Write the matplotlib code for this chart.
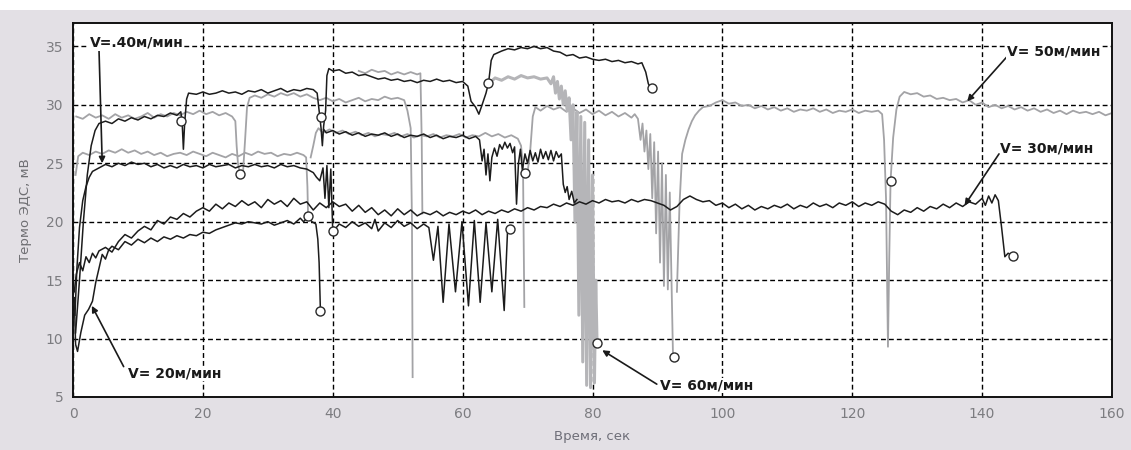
import numpy as np
import matplotlib
matplotlib.use('Agg')
import matplotlib.pyplot as plt
from matplotlib.patches import Rectangle

# ---------------- data (time, s ; thermo-EMF, mV) ----------------
x_ticks = [0, 20, 40, 60, 80, 100, 120, 140, 160]
x_tick_labels = ["0", "20", "40", "60", "80", "100", "120", "140", "160"]
y_ticks = [5, 10, 15, 20, 25, 30, 35]

# black upper staircase trace
trace_a = [(0.4, 10.5), (1.0, 15.0), (1.6, 20.0), (2.2, 24.0), (2.8, 26.5), (3.4, 27.8), (4.0, 28.4),
           (5, 28.6), (6, 28.4), (7, 28.8), (8, 28.6), (9, 28.9), (10, 28.7), (11, 29.0), (12, 28.8),
           (13, 29.1), (14, 29.0), (15, 29.3), (16, 29.1), (16.6, 29.4), (16.8, 28.6), (17.0, 26.2),
           (17.2, 28.5), (17.5, 30.5), (17.8, 31.0), (19, 30.9), (20, 31.1), (21, 30.9), (22, 31.0),
           (23, 31.2), (24, 31.0), (25, 31.1), (26, 30.9), (27, 31.2), (28, 31.1), (29, 31.3), (30, 31.0),
           (31, 31.2), (32, 31.4), (33, 31.1), (34, 31.3), (35, 31.2), (36, 31.4), (37, 31.3), (37.6, 31.0),
           (37.9, 29.5), (38.2, 28.0), (38.4, 26.5), (38.6, 28.2), (38.9, 29.5), (39.1, 32.5), (39.4, 33.1),
           (40, 32.9), (41, 33.0), (42, 32.7), (43, 32.8), (44, 32.5), (45, 32.6), (46, 32.4), (47, 32.2),
           (48, 32.3), (49, 32.1), (50, 32.2), (51, 32.0), (52, 32.1), (53, 31.9), (54, 32.1), (55, 32.0),
           (56, 32.2), (57, 32.0), (58, 32.1), (59, 31.9), (60, 32.0), (60.8, 31.6), (61.3, 30.3),
           (62.0, 29.8), (62.5, 29.2), (63.0, 30.0), (63.6, 31.0), (64.0, 31.9), (64.4, 33.8), (64.8, 34.3),
           (66, 34.6), (67, 34.8), (68, 34.7), (69, 34.9), (70, 34.8), (71, 35.0), (72, 34.8), (73, 34.9),
           (74, 34.6), (75, 34.5), (76, 34.2), (77, 34.3), (78, 34.0), (79, 34.1), (80, 33.9), (81, 33.8),
           (82, 33.9), (83, 33.7), (84, 33.8), (85, 33.6), (86, 33.7), (87, 33.5), (87.6, 33.6),
           (88.2, 32.8), (88.6, 31.8), (89.0, 31.4)]

# black V=40 trace (~25 mV)
v40 = [(0.3, 12.0), (0.6, 16.0), (1.0, 19.5), (1.5, 21.8), (2.0, 23.0), (2.5, 23.8), (3.0, 24.3),
       (4, 24.6), (5, 24.9), (6, 24.7), (7, 25.0), (8, 24.8), (9, 25.1), (10, 24.9), (11, 25.0),
       (12, 24.7), (13, 24.9), (14, 24.6), (15, 24.8), (16, 24.6), (17, 24.9), (18, 24.7), (19, 24.8),
       (20, 24.6), (21, 24.9), (22, 24.7), (23, 24.8), (24, 24.9), (25, 24.6), (26, 24.8), (27, 24.7),
       (28, 24.9), (29, 24.7), (30, 24.8), (31, 24.6), (32, 24.9), (33, 24.7), (34, 24.8), (35, 24.6),
       (36, 24.5), (37, 24.2), (37.5, 23.8), (38.0, 23.5), (38.5, 24.6), (38.8, 22.0), (39.1, 24.8),
       (39.4, 21.2), (39.7, 24.5), (40.0, 19.2)]

# black V=20 trace (lower rising)
v20 = [(0.2, 13.5), (0.4, 9.5), (0.7, 8.9), (1.2, 10.5), (1.8, 12.0), (2.4, 12.5), (3.0, 13.2),
       (3.5, 14.8), (4.0, 16.0), (4.5, 17.2), (5, 16.8), (5.5, 17.6), (6, 17.9), (7, 17.6), (8, 18.3),
       (9, 18.0), (10, 18.5), (11, 18.2), (12, 18.6), (13, 18.3), (14, 18.7), (15, 18.5), (16, 18.8),
       (17, 18.6), (18, 18.9), (19, 18.8), (20, 19.1), (21, 19.0), (22, 19.3), (23, 19.5), (24, 19.7),
       (25, 19.9), (26, 19.8), (27, 20.0), (28, 19.9), (29, 19.8), (30, 20.0), (31, 19.7), (32, 19.9),
       (33, 20.1), (34, 19.8), (35, 20.3), (35.5, 20.0), (36.2, 20.4), (36.8, 20.0), (37.4, 19.8),
       (37.7, 18.5), (37.9, 16.5), (38.1, 12.4)]

# black oscillating segment
trace_d = [(40.1, 19.2), (41, 19.8), (42, 19.5), (43, 20.0), (44, 19.6), (45, 19.9), (46, 19.4),
           (46.5, 20.2), (47, 19.2), (48, 19.9), (49, 19.5), (50, 20.1), (51, 19.6), (52, 19.9),
           (53, 19.4), (54, 19.8), (54.8, 19.5), (55.5, 16.7), (56.2, 19.6), (57.0, 13.1), (57.9, 19.8),
           (58.9, 14.0), (59.9, 20.0), (60.9, 12.8), (61.8, 20.1), (62.7, 13.1), (63.6, 19.9),
           (64.5, 14.0), (65.4, 20.2), (66.4, 12.4), (66.9, 19.0), (67.3, 19.4)]

# black V=30 trace (~21.5 mV)
v30 = [(0.2, 14.0), (0.5, 15.5), (1.0, 16.5), (1.5, 15.8), (2.0, 17.0), (2.5, 16.5), (3.0, 17.3),
       (3.5, 16.9), (4, 17.5), (5, 17.8), (6, 17.4), (7, 18.3), (8, 18.9), (9, 18.6), (10, 19.2),
       (11, 19.6), (12, 19.3), (13, 20.1), (14, 19.8), (15, 20.4), (16, 20.2), (17, 20.7), (18, 20.4),
       (19, 20.9), (20, 21.2), (21, 20.9), (22, 21.5), (23, 21.1), (24, 21.6), (25, 21.3), (26, 21.8),
       (27, 21.4), (28, 21.7), (29, 21.2), (30, 21.9), (31, 21.5), (32, 21.8), (33, 21.3), (34, 22.0),
       (35, 21.5), (36, 21.7), (37, 21.0), (38, 21.6), (39, 21.2), (40, 21.7), (41, 21.3), (42, 21.5),
       (43, 20.9), (44, 21.4), (45, 20.8), (46, 21.2), (47, 20.6), (48, 21.0), (49, 20.5), (50, 21.1),
       (51, 20.6), (52, 21.0), (53, 20.5), (54, 20.8), (55, 20.6), (56, 20.9), (57, 20.5), (58, 20.8),
       (59, 20.6), (60, 20.9), (61, 20.7), (62, 21.0), (63, 20.6), (64, 20.9), (65, 20.7), (66, 21.0),
       (67, 20.8), (68, 21.1), (69, 20.9), (70, 21.2), (71, 21.0), (72, 21.3), (73, 21.2), (74, 21.5),
       (75, 21.3), (76, 21.6), (77, 21.4), (78, 21.7), (79, 21.5), (80, 21.8), (81, 21.6), (82, 21.9),
       (83, 21.7), (84, 21.8), (85, 21.6), (86, 21.9), (87, 21.7), (88, 21.9), (89, 21.8), (90, 21.6),
       (91, 21.4), (92, 21.0), (93, 21.3), (94, 21.9), (95, 22.2), (96, 21.9), (97, 21.7), (98, 21.8),
       (99, 21.4), (100, 21.6), (101, 21.2), (102, 21.5), (103, 21.1), (104, 21.4), (105, 21.0),
       (106, 21.3), (107, 21.1), (108, 21.4), (109, 21.2), (110, 21.5), (111, 21.1), (112, 21.4),
       (113, 21.2), (114, 21.6), (115, 21.3), (116, 21.5), (117, 21.2), (118, 21.6), (119, 21.4),
       (120, 21.7), (121, 21.3), (122, 21.6), (123, 21.4), (124, 21.7), (125, 21.5), (126, 20.9),
       (127, 20.6), (128, 21.0), (129, 20.8), (130, 21.2), (131, 20.9), (132, 21.3), (133, 21.1),
       (134, 21.5), (135, 21.2), (136, 21.6), (137, 21.3), (138, 21.7), (139, 21.5), (140, 22.0),
       (140.5, 21.4), (141, 22.2), (141.5, 21.6), (142, 22.3), (142.5, 21.8), (143.0, 19.5),
       (143.5, 17.0), (144.0, 17.3), (144.8, 17.1)]

# black 27.5 / 25.5 segment
trace_f = [(38.6, 27.9), (39, 27.6), (40, 27.8), (41, 27.5), (42, 27.7), (43, 27.4), (44, 27.6),
           (45, 27.3), (46, 27.5), (47, 27.4), (48, 27.6), (49, 27.3), (50, 27.5), (51, 27.2), (52, 27.4),
           (53, 27.3), (54, 27.5), (55, 27.2), (56, 27.4), (57, 27.1), (58, 27.3), (59, 27.2), (60, 27.4),
           (61, 27.1), (62, 27.3), (62.6, 27.0), (63.0, 25.2), (63.3, 26.2), (63.6, 24.0), (63.9, 25.8),
           (64.2, 23.5), (64.5, 25.5), (64.9, 26.3), (65.3, 25.6), (65.7, 26.6), (66.1, 26.2), (66.5, 26.8),
           (66.9, 26.3), (67.3, 26.7), (67.7, 25.9), (68.0, 26.4), (68.3, 21.5), (68.6, 25.0), (68.9, 26.2),
           (69.2, 24.4), (69.6, 25.8), (70.0, 25.0), (70.4, 26.1), (70.8, 25.2), (71.2, 25.9), (71.6, 25.1),
           (72.0, 26.2), (72.4, 25.4), (72.8, 26.0), (73.2, 25.3), (73.6, 26.1), (74.0, 25.2), (74.4, 26.0),
           (74.8, 25.5), (75.2, 25.8), (75.5, 23.2), (75.8, 22.5), (76.1, 23.0), (76.4, 21.9), (76.8, 22.6),
           (77.2, 21.6), (77.6, 21.9)]

# grey (dotted) traces
grey_1 = [(0.5, 29.0), (1.5, 28.8), (2.5, 29.2), (3.5, 28.9), (4.5, 29.1), (5.5, 28.8), (6.5, 29.2),
          (7.5, 28.9), (8.5, 29.1), (9.5, 28.8), (10.5, 29.0), (11.5, 29.3), (12.5, 28.9), (13.5, 29.2),
          (14.5, 29.0), (15.5, 29.3), (16.5, 29.1), (17.5, 29.4), (18.5, 29.2), (19.5, 29.5), (20.5, 29.2),
          (21.5, 29.4), (22.5, 29.1), (23.5, 29.3), (24.5, 29.0), (25.0, 28.6), (25.2, 26.5), (25.4, 25.0),
          (25.7, 24.1)]

grey_2 = [(0.4, 24.0), (0.8, 25.6), (1.5, 25.9), (2.5, 25.7), (3.5, 26.0), (4.5, 25.8), (5.5, 26.1),
          (6.5, 25.9), (7.5, 26.2), (8.5, 25.9), (9.5, 26.1), (10.5, 25.8), (11.5, 26.0), (12.5, 25.7),
          (13.5, 25.9), (14.5, 25.6), (15.5, 25.8), (16.5, 25.9), (17.5, 25.7), (18.5, 26.0), (19.5, 25.8),
          (20.5, 25.6), (21.5, 25.9), (22.5, 25.7), (23.5, 25.5), (24.5, 25.8), (25.5, 25.6), (26.5, 25.9),
          (27.5, 25.7), (28.5, 26.0), (29.5, 25.8), (30.5, 25.9), (31.5, 25.6), (32.5, 25.8), (33.5, 25.7),
          (34.5, 25.9), (35.5, 25.7), (35.9, 25.5), (36.1, 23.0), (36.2, 20.5)]

grey_3 = [(26.2, 24.4), (26.5, 27.0), (26.8, 29.8), (27.2, 30.6), (28, 30.8), (29, 30.6), (30, 30.9),
          (31, 30.7), (32, 31.0), (33, 30.8), (34, 31.0), (35, 30.7), (36, 30.9), (37, 30.6), (38, 30.4),
          (39, 30.6), (40, 30.3), (41, 30.5), (42, 30.2), (43, 30.4), (44, 30.6), (45, 30.3), (46, 30.5),
          (47, 30.4), (48, 30.7), (49, 30.5), (50, 30.6), (51, 30.4), (51.5, 29.5), (52.0, 28.0),
          (52.2, 20.0), (52.3, 6.7)]

grey_4 = [(36.6, 25.5), (37.0, 26.5), (37.4, 27.6), (37.8, 28.0), (38.5, 27.6), (39.5, 27.9), (40.5, 27.6),
          (41.5, 27.8), (42.5, 27.5), (43.5, 27.7), (44.5, 27.4), (45.5, 27.6), (46.5, 27.3), (47.5, 27.5),
          (48.5, 27.4), (49.5, 27.6), (50.5, 27.3), (51.5, 27.5), (52.5, 27.2), (53.5, 27.4), (54.5, 27.3),
          (55.5, 27.5), (56.5, 27.2), (57.5, 27.4), (58.5, 27.3), (59.5, 27.5), (60.5, 27.2), (61.5, 27.4),
          (62.5, 27.3), (63.5, 27.6), (64.5, 27.3), (65.5, 27.5), (66.5, 27.2), (67.5, 27.4), (68.5, 27.1),
          (69.0, 26.5), (69.3, 24.6), (69.5, 12.7)]

grey_5 = [(44, 32.9), (45, 32.7), (46, 33.0), (47, 32.8), (48, 32.9), (49, 32.6), (50, 32.8), (51, 32.6),
          (52, 32.8), (53, 32.6), (53.5, 32.7), (53.7, 27.0), (53.8, 20.7)]

grey_6 = [(70.0, 24.2), (70.4, 26.0), (70.8, 29.0), (71.2, 29.8), (72, 29.5), (73, 29.9), (74, 29.6),
          (75, 29.8), (76, 29.4), (77, 29.7), (78, 29.3), (79, 29.6), (80, 29.2), (81, 29.5), (82, 29.1),
          (83, 29.4), (84, 29.0), (85, 29.3), (86, 28.9), (86.5, 29.2), (87.0, 28.8), (87.4, 27.0),
          (87.7, 28.4), (88.0, 26.0), (88.3, 27.8), (88.6, 24.5), (88.9, 27.5), (89.2, 22.0), (89.5, 26.8),
          (89.8, 19.0), (90.1, 26.0), (90.4, 16.5), (90.7, 25.0), (91.0, 14.5), (91.3, 24.0), (91.6, 14.2),
          (91.9, 22.5), (92.2, 14.0), (92.4, 8.4)]

v60 = [(64.2, 31.9), (65, 32.3), (66, 32.1), (67, 32.4), (68, 32.2), (69, 32.5), (70, 32.3), (71, 32.4),
       (72, 32.2), (73, 32.3), (73.6, 31.8), (74.0, 32.4), (74.3, 31.0), (74.6, 32.0), (74.9, 30.5),
       (75.2, 31.6), (75.5, 30.0), (75.8, 31.2), (76.1, 29.5), (76.4, 30.6), (76.7, 27.0), (77.0, 30.0),
       (77.3, 20.0), (77.6, 29.4), (77.9, 12.0), (78.2, 29.0), (78.5, 8.0), (78.8, 28.5), (79.1, 6.0),
       (79.4, 27.0), (79.7, 5.8), (80.0, 24.0), (80.3, 6.2), (80.5, 15.0), (80.7, 9.6)]

v50 = [(93.0, 14.0), (93.4, 21.5), (93.8, 25.8), (94.3, 27.0), (94.8, 27.9), (95.3, 28.6), (95.8, 29.1),
       (96.4, 29.5), (97.0, 29.8), (98, 29.9), (99, 30.2), (100, 30.4), (101, 30.1), (102, 30.2),
       (103, 29.9), (104, 30.0), (105, 29.7), (106, 29.9), (107, 29.6), (108, 29.8), (109, 29.5),
       (110, 29.7), (111, 29.4), (112, 29.6), (113, 29.5), (114, 29.7), (115, 29.4), (116, 29.6),
       (117, 29.3), (118, 29.5), (119, 29.4), (120, 29.6), (121, 29.3), (122, 29.5), (123, 29.4),
       (124, 29.5), (124.6, 29.2), (124.9, 27.0), (125.2, 22.0), (125.5, 9.3), (125.7, 17.0),
       (125.9, 23.5), (126.3, 27.2), (126.8, 29.6), (127.3, 30.7), (128, 31.1), (129, 30.9), (130, 31.0),
       (131, 30.7), (132, 30.8), (133, 30.5), (134, 30.6), (135, 30.4), (136, 30.5), (137, 30.2),
       (138, 30.4), (139, 30.0), (140, 30.2), (141, 29.8), (142, 30.0), (143, 29.7), (144, 29.9),
       (145, 29.6), (146, 29.8), (147, 29.5), (148, 29.7), (149, 29.4), (150, 29.6), (151, 29.3),
       (152, 29.5), (153, 29.2), (154, 29.5), (155, 29.3), (156, 29.4), (157, 29.2), (158, 29.4),
       (159, 29.1), (160, 29.3)]

# end-of-run circle markers
circles_t = [16.6, 25.7, 38.2, 38.1, 36.2, 40.1, 63.9, 89.1, 69.6, 67.3, 80.7, 92.5, 125.9, 144.8]
circles_v = [28.6, 24.1, 29.0, 12.4, 20.5, 19.2, 31.9, 31.4, 24.2, 19.4, 9.6, 8.4, 23.5, 17.1]

# annotation labels
label_texts = ["V=.40м/мин", "V= 20м/мин", "V= 60м/мин", "V= 50м/мин", "V= 30м/мин"]

# ---------------- figure ----------------
W, H = 1131, 450
fig = plt.figure(figsize=(W / 100, H / 100), dpi=100)
fig.patch.set_facecolor('#e3e0e5')
fig.patches.append(Rectangle((0, 1 - 10 / H), 1, 10 / H, transform=fig.transFigure,
                             facecolor='white', edgecolor='none', zorder=0))

ax = fig.add_axes([73 / W, 1 - 397 / H, (1112 - 73) / W, (397 - 23) / H])
ax.set_facecolor('white')
ax.set_xlim(0, 160)
ax.set_ylim(5, 37)
ax.set_xticks(x_ticks)
ax.set_xticklabels(x_tick_labels)
ax.set_yticks(y_ticks)
ax.grid(True, color='black', linestyle=(0, (3.5, 2.2)), linewidth=1.0, zorder=1)
ax.set_axisbelow(True)
ax.tick_params(length=0, labelsize=10, labelcolor='#7c7c80', pad=7)
for s in ax.spines.values():
    s.set_color('#111111')
    s.set_linewidth(1.4)

def draw(pairs, **kw):
    t, v = zip(*pairs)
    ax.plot(t, v, **kw)

grey_kw = dict(color='#a3a3a6', linewidth=1.3, zorder=2)
for g in (grey_1, grey_2, grey_3, grey_4, grey_5, grey_6, v50):
    draw(g, **grey_kw)
draw(v60, color='#b5b5b8', linewidth=2.2, zorder=2)

black_kw = dict(color='#1c1c1c', linewidth=1.1, zorder=3)
for b in (trace_a, v40, v20, trace_d, v30, trace_f):
    draw(b, **black_kw)

ax.plot(circles_t, circles_v, linestyle='none', marker='o', markersize=6.5,
        markerfacecolor='white', markeredgecolor='#2a2a2a', markeredgewidth=1.0, zorder=4)

# labels with arrows
ann_pos = [((2.6, 35.3), (4.5, 25.0), (4.0, 34.8)),
           ((8.5, 7.0), (2.9, 12.8), (7.8, 7.6)),
           ((90.4, 6.0), (81.5, 9.0), (89.9, 6.1)),
           ((143.8, 34.6), (137.7, 30.3), (143.8, 34.1)),
           ((142.8, 26.3), (137.3, 21.4), (142.6, 25.8))]
for txt, (tp, head, tail) in zip(label_texts, ann_pos):
    ax.text(tp[0], tp[1], txt, fontsize=10, fontweight='bold', color='#1a1a1a',
            ha='left', va='center', zorder=6,
            bbox=dict(facecolor='white', edgecolor='none', pad=0.5))
    ax.annotate('', xy=head, xytext=tail,
                arrowprops=dict(arrowstyle='-|>', color='#1a1a1a', lw=1.2,
                                mutation_scale=9, shrinkA=0, shrinkB=0), zorder=5)

ax.set_ylabel('Термо ЭДС, мВ', fontsize=9.5, color='#6e6e72', labelpad=10)
ax.set_xlabel('Время, сек', fontsize=9.5, color='#6e6e78', labelpad=7)

fig.savefig('out.png', dpi=100, facecolor=fig.get_facecolor())
